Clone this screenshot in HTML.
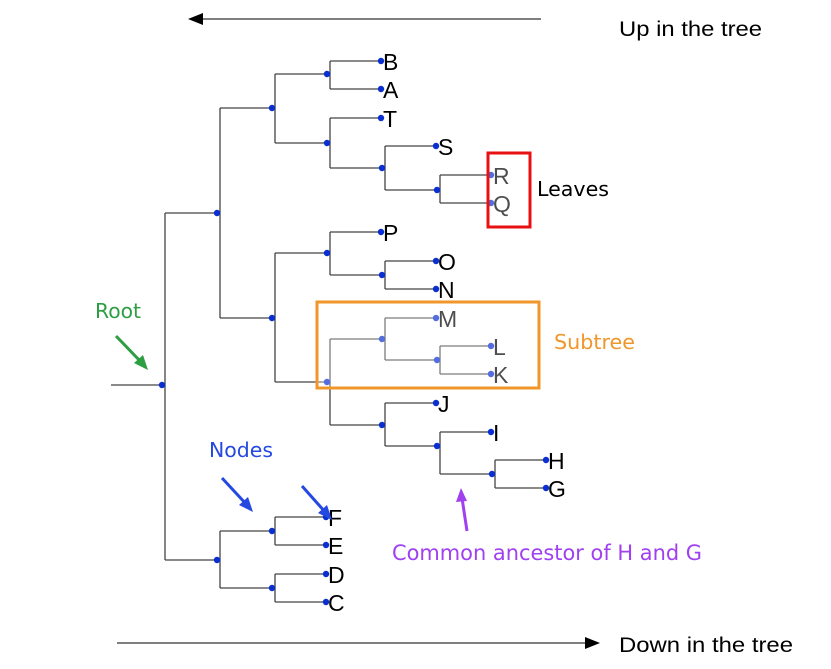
<!DOCTYPE html>
<html><head><meta charset="utf-8"><style>
html,body{margin:0;padding:0;background:#fff;}
svg{display:block;}
text{font-family:"Liberation Sans",sans-serif;}
.c{font-family:"DejaVu Sans","Liberation Sans",sans-serif;}
</style></head><body>
<svg width="831" height="669" viewBox="0 0 831 669" xmlns="http://www.w3.org/2000/svg">
<rect width="831" height="669" fill="#fff"/>
<line x1="541" y1="19" x2="200" y2="19" stroke="#555" stroke-width="1.5"/>
<path d="M188,19 L203,13 L203,25 z" fill="#000"/>
<text x="619" y="36" font-size="21" textLength="143" lengthAdjust="spacingAndGlyphs">Up in the tree</text>
<line x1="117" y1="643" x2="588" y2="643" stroke="#555" stroke-width="1.5"/>
<path d="M600,643 L585,637 L585,649 z" fill="#000"/>
<text x="619" y="652" font-size="21" textLength="174" lengthAdjust="spacingAndGlyphs">Down in the tree</text>

<g stroke="#444" stroke-width="1.3" fill="none">
<path d="M111,385H165 M165,213V560 M165,213H220 M165,560H220
M220,108V318 M220,108H275 M220,318H275
M275,74V143 M275,74H330 M275,143H330
M330,61V89 M330,61H382 M330,89H382
M330,118V168 M330,118H382 M330,168H385
M385,146V190 M385,146H437 M385,190H440
M440,175V203 M440,175H492 M440,203H492
M275,253V382 M275,253H330 M275,382H330
M330,232V275 M330,232H382 M330,275H385
M385,261V289 M385,261H437 M385,289H437
M330,339V425 M330,339H385 M330,425H385
M385,318V360 M385,318H437 M385,360H440
M440,346V374 M440,346H492 M440,374H492
M385,403V446 M385,403H437 M385,446H440
M440,432V474 M440,432H492 M440,474H495
M495,460V488 M495,460H547 M495,488H547
M220,531V588 M220,531H275 M220,588H275
M275,517V545 M275,517H327 M275,545H327
M275,574V602 M275,574H327 M275,602H327"/>
</g>
<g fill="#0a2fd0">
<circle cx="162" cy="385" r="3.2"/><circle cx="217" cy="213" r="3.2"/><circle cx="217" cy="560" r="3.2"/>
<circle cx="272" cy="108" r="3.2"/><circle cx="272" cy="318" r="3.2"/><circle cx="272" cy="531" r="3.2"/><circle cx="272" cy="588" r="3.2"/>
<circle cx="327" cy="74" r="3.2"/><circle cx="327" cy="143" r="3.2"/><circle cx="327" cy="253" r="3.2"/><circle cx="327" cy="382" r="3.2"/>
<circle cx="382" cy="168" r="3.2"/><circle cx="382" cy="275" r="3.2"/><circle cx="382" cy="339" r="3.2"/><circle cx="382" cy="425" r="3.2"/>
<circle cx="437" cy="190" r="3.2"/><circle cx="437" cy="360" r="3.2"/><circle cx="437" cy="446" r="3.2"/><circle cx="492" cy="474" r="3.2"/>
<circle cx="381" cy="61" r="3.2"/><circle cx="381" cy="89" r="3.2"/><circle cx="381" cy="118" r="3.2"/><circle cx="436" cy="146" r="3.2"/>
<circle cx="491" cy="175" r="3.2"/><circle cx="491" cy="203" r="3.2"/>
<circle cx="381" cy="232" r="3.2"/><circle cx="436" cy="261" r="3.2"/><circle cx="436" cy="289" r="3.2"/>
<circle cx="436" cy="318" r="3.2"/><circle cx="491" cy="346" r="3.2"/><circle cx="491" cy="374" r="3.2"/>
<circle cx="436" cy="403" r="3.2"/><circle cx="491" cy="432" r="3.2"/><circle cx="546" cy="460" r="3.2"/><circle cx="546" cy="488" r="3.2"/>
<circle cx="326" cy="517" r="3.2"/><circle cx="326" cy="545" r="3.2"/><circle cx="326" cy="574" r="3.2"/><circle cx="326" cy="602" r="3.2"/>
</g>
<g font-size="23" fill="#000">
<text x="383" y="70">B</text><text x="383" y="98">A</text><text x="383" y="127">T</text><text x="438" y="155">S</text>
<text x="493" y="184">R</text><text x="493" y="212">Q</text>
<text x="383" y="241">P</text><text x="438" y="270">O</text><text x="438" y="298">N</text>
<text x="438" y="327">M</text><text x="493" y="355">L</text><text x="493" y="383">K</text>
<text x="438" y="412">J</text><text x="493" y="441">I</text><text x="548" y="469">H</text><text x="548" y="497">G</text>
<text x="328" y="526">F</text><text x="328" y="554">E</text><text x="328" y="583">D</text><text x="328" y="611">C</text>
</g>
<rect x="317" y="302" width="222" height="86" fill="rgba(255,255,255,0.3)" stroke="#f0962a" stroke-width="3"/>
<rect x="488" y="153" width="42" height="74" fill="rgba(255,255,255,0.3)" stroke="#e81010" stroke-width="3"/>
<text x="537" y="196" font-size="20" class="c" fill="#000" textLength="72" lengthAdjust="spacingAndGlyphs">Leaves</text>
<text x="554" y="349" font-size="20" class="c" fill="#f0962a" textLength="81" lengthAdjust="spacingAndGlyphs">Subtree</text>
<text x="95" y="318" font-size="20" class="c" fill="#2e9e44" textLength="46" lengthAdjust="spacingAndGlyphs">Root</text>
<text x="209" y="457" font-size="20" class="c" fill="#2448e0" textLength="64" lengthAdjust="spacingAndGlyphs">Nodes</text>
<text x="392" y="560" font-size="21" class="c" fill="#a040f0" textLength="310" lengthAdjust="spacingAndGlyphs">Common ancestor of H and G</text>
<line x1="116" y1="336" x2="142" y2="363" stroke="#2e9e44" stroke-width="3"/>
<path d="M148,370 L134,363 L143,355 z" fill="#2e9e44"/>
<line x1="222" y1="478" x2="247" y2="505" stroke="#2448e0" stroke-width="3"/>
<path d="M253,512 L239,505 L248,497 z" fill="#2448e0"/>
<line x1="302" y1="486" x2="326" y2="513" stroke="#2448e0" stroke-width="3"/>
<path d="M332,520 L318,513 L327,505 z" fill="#2448e0"/>
<line x1="467" y1="531" x2="462" y2="498" stroke="#a040f0" stroke-width="3"/>
<path d="M461,488 L467,501 L456,502 z" fill="#a040f0"/>
</svg>
</body></html>
